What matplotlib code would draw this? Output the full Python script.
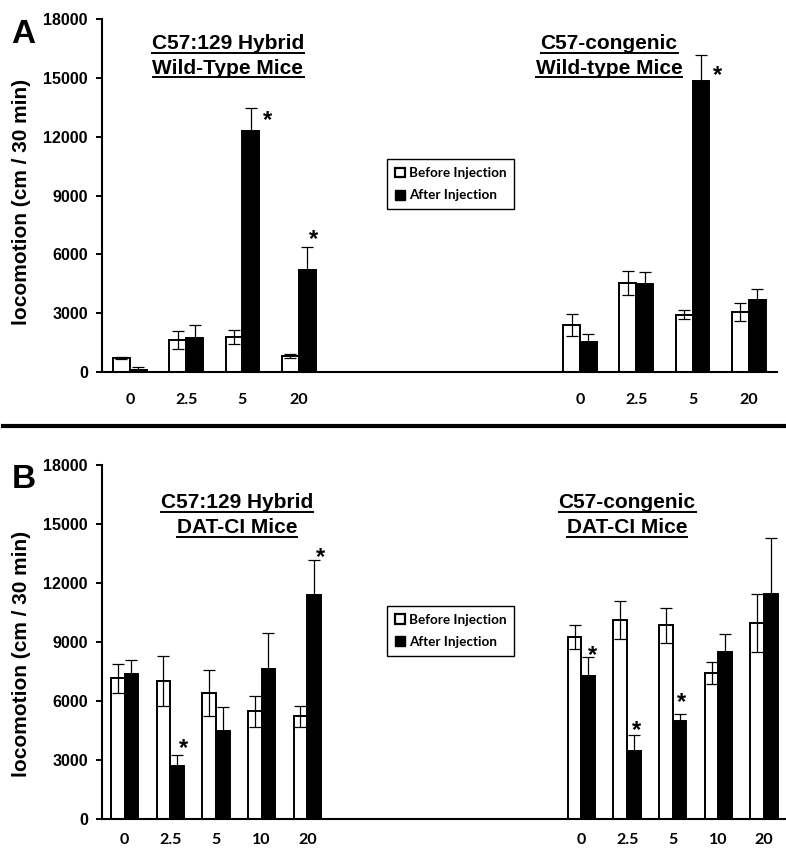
import matplotlib
matplotlib.use("Agg")
import matplotlib.pyplot as plt
from matplotlib.patches import Patch
from matplotlib.lines import Line2D
from matplotlib.font_manager import FontProperties
import numpy as np

# ---------------- data ----------------
A_doses = ["0", "2.5", "5", "20"]
B_doses = ["0", "2.5", "5", "10", "20"]

A_hyb_before = [710, 1630, 1790, 815]
A_hyb_before_err = [50, 450, 350, 90]
A_hyb_after = [120, 1720, 12300, 5220]
A_hyb_after_err = [140, 660, 1160, 1170]
A_hyb_sig = [0, 0, 1, 1]

A_con_before = [2400, 4540, 2910, 3060]
A_con_before_err = [540, 600, 230, 470]
A_con_after = [1510, 4490, 14860, 3690]
A_con_after_err = [410, 610, 1310, 530]
A_con_sig = [0, 0, 1, 0]

B_hyb_before = [7150, 7030, 6420, 5480, 5220]
B_hyb_before_err = [745, 1270, 1160, 780, 550]
B_hyb_after = [7390, 2680, 4480, 7630, 11370]
B_hyb_after_err = [700, 590, 1240, 1810, 1780]
B_hyb_sig = [0, 1, 0, 0, 1]

B_con_before = [9250, 10100, 9860, 7410, 9970]
B_con_before_err = [630, 960, 890, 550, 1490]
B_con_after = [7250, 3460, 4970, 8510, 11440]
B_con_after_err = [1000, 810, 390, 880, 2850]
B_con_sig = [1, 1, 1, 0, 0]

legend_labels = ["Before Injection", "After Injection"]
ylabel = "locomotion (cm / 30 min)"

# asterisk offsets (pixels, relative to bar centre / top of error bar) - style only
A_hyb_star_off = {2: (17, -5), 3: (6, 14)}
A_con_star_off = {2: (16, -14)}
B_hyb_star_off = {1: (6, 13), 4: (6, 10)}
B_con_star_off = {0: (4, 8), 1: (3, 12), 2: (2, 18)}

# ---------------- figure ----------------
W, H = 786, 852
fig = plt.figure(figsize=(W / 100, H / 100), dpi=100)


def px_rect(l, t, r, b):
    return [l / W, 1 - b / H, (r - l) / W, (b - t) / H]


axA = fig.add_axes(px_rect(101.7, 19, 777, 372))
axB = fig.add_axes(px_rect(101.7, 465, 787, 819))

tickfont = "Liberation Sans"
calfont = "Lato"
BW = 0.3


def draw_group(ax, pos, before, before_err, after, after_err, sig, star_off):
    pos = np.asarray(pos, dtype=float)
    xb = pos - BW / 2
    xa = pos + BW / 2
    ax.bar(xb, before, width=BW, color="white", edgecolor="black", linewidth=1.4, zorder=2)
    ax.bar(xa, after, width=BW, color="black", edgecolor="black", linewidth=1.4, zorder=2)
    ax.errorbar(xb, before, yerr=before_err, fmt="none", ecolor="black",
                elinewidth=0.9, capsize=4.5, capthick=0.9, zorder=3)
    ax.errorbar(xa, after, yerr=after_err, fmt="none", ecolor="black",
                elinewidth=0.9, capsize=4.5, capthick=0.9, zorder=3)
    for i, s in enumerate(sig):
        if s:
            dx, dy = star_off.get(i, (6, 12))
            ax.annotate("*", xy=(xa[i], after[i] + after_err[i]),
                        xytext=(dx, dy - 7), textcoords="offset pixels",
                        ha="center", va="center", fontsize=17, fontweight="bold",
                        family=tickfont, zorder=4)


def setup_panel(ax, doses, groups, ypos_legend, xpad):
    n = len(doses)
    nblank = n
    total = 2 * n + nblank
    left_pos = np.arange(n)
    right_pos = np.arange(n) + n + nblank
    (b1, b1e, a1, a1e, s1, o1), (b2, b2e, a2, a2e, s2, o2) = groups
    draw_group(ax, left_pos, b1, b1e, a1, a1e, s1, o1)
    draw_group(ax, right_pos, b2, b2e, a2, a2e, s2, o2)
    ax.set_xlim(-0.5, total - 0.5)
    ax.set_ylim(0, 18000)
    ax.set_yticks(np.arange(0, 18001, 3000))
    ax.set_yticklabels([str(v) for v in range(0, 18001, 3000)],
                       fontsize=11.5, fontweight="bold", family=tickfont)
    ax.set_xticks(np.concatenate([left_pos, right_pos]))
    ax.set_xticklabels(doses + doses, fontsize=11.5, fontweight="bold", family=calfont)
    ax.tick_params(axis="x", length=0, pad=xpad)
    ax.tick_params(axis="y", length=4, width=1.4, pad=6, direction="out")
    for sp in ["top", "right"]:
        ax.spines[sp].set_visible(False)
    for sp in ["left", "bottom"]:
        ax.spines[sp].set_linewidth(1.5)
    handles = [Patch(facecolor="white", edgecolor="black", linewidth=1.6, label=legend_labels[0]),
               Patch(facecolor="black", edgecolor="black", linewidth=1.0, label=legend_labels[1])]
    leg = ax.legend(handles=handles, loc="upper left", bbox_to_anchor=ypos_legend,
                    borderaxespad=0, frameon=True, fancybox=False, edgecolor="black",
                    framealpha=1, prop=FontProperties(family=calfont, weight="bold", size=9.7),
                    handlelength=0.75, handleheight=0.75, handletextpad=0.25,
                    labelspacing=0.75, borderpad=0.6)
    leg.get_frame().set_linewidth(1.0)


setup_panel(axA, A_doses,
            [(A_hyb_before, A_hyb_before_err, A_hyb_after, A_hyb_after_err, A_hyb_sig, A_hyb_star_off),
             (A_con_before, A_con_before_err, A_con_after, A_con_after_err, A_con_sig, A_con_star_off)],
            (0.4227, 0.603), 15)
setup_panel(axB, B_doses,
            [(B_hyb_before, B_hyb_before_err, B_hyb_after, B_hyb_after_err, B_hyb_sig, B_hyb_star_off),
             (B_con_before, B_con_before_err, B_con_after, B_con_after_err, B_con_sig, B_con_star_off)],
            (0.4165, 0.602), 10)

# y labels
fig.text(22 / W, 1 - 202 / H, ylabel, rotation=90, ha="center", va="center",
         fontsize=15, fontweight="bold", family=tickfont)
fig.text(22 / W, 1 - 654 / H, ylabel, rotation=90, ha="center", va="center",
         fontsize=15, fontweight="bold", family=tickfont)

# panel letters
fig.text(11 / W, 1 - 43 / H, "A", ha="left", va="baseline", fontsize=24,
         fontweight="bold", family=tickfont)
fig.text(12 / W, 1 - 488 / H, "B", ha="left", va="baseline", fontsize=24,
         fontweight="bold", family=tickfont)

# separator
fig.add_artist(Line2D([3 / W, 1.0], [1 - 426 / H, 1 - 426 / H], color="black", lw=3,
                      transform=fig.transFigure))

# underlined titles
titles = [
    (228, 49.3, "C57:129 Hybrid"), (228, 73.7, "Wild-Type Mice"),
    (609, 49.3, "C57-congenic"), (609, 73.7, "Wild-type Mice"),
    (237, 508.3, "C57:129 Hybrid"), (237, 533.3, "DAT-CI Mice"),
    (627, 508.3, "C57-congenic"), (627, 533.3, "DAT-CI Mice"),
]
tobjs = []
for xc, yb, s in titles:
    t = fig.text(xc / W, 1 - yb / H, s, ha="center", va="baseline", fontsize=15,
                 fontweight="bold", family=tickfont)
    tobjs.append((t, yb))

fig.canvas.draw()
r = fig.canvas.get_renderer()
for t, yb in tobjs:
    bb = t.get_window_extent(r)
    yl = 1 - (yb + 3.5) / H
    fig.add_artist(Line2D([bb.x0 / W, bb.x1 / W], [yl, yl], color="black", lw=1.4,
                          transform=fig.transFigure))

fig.savefig("out.png", dpi=100)
